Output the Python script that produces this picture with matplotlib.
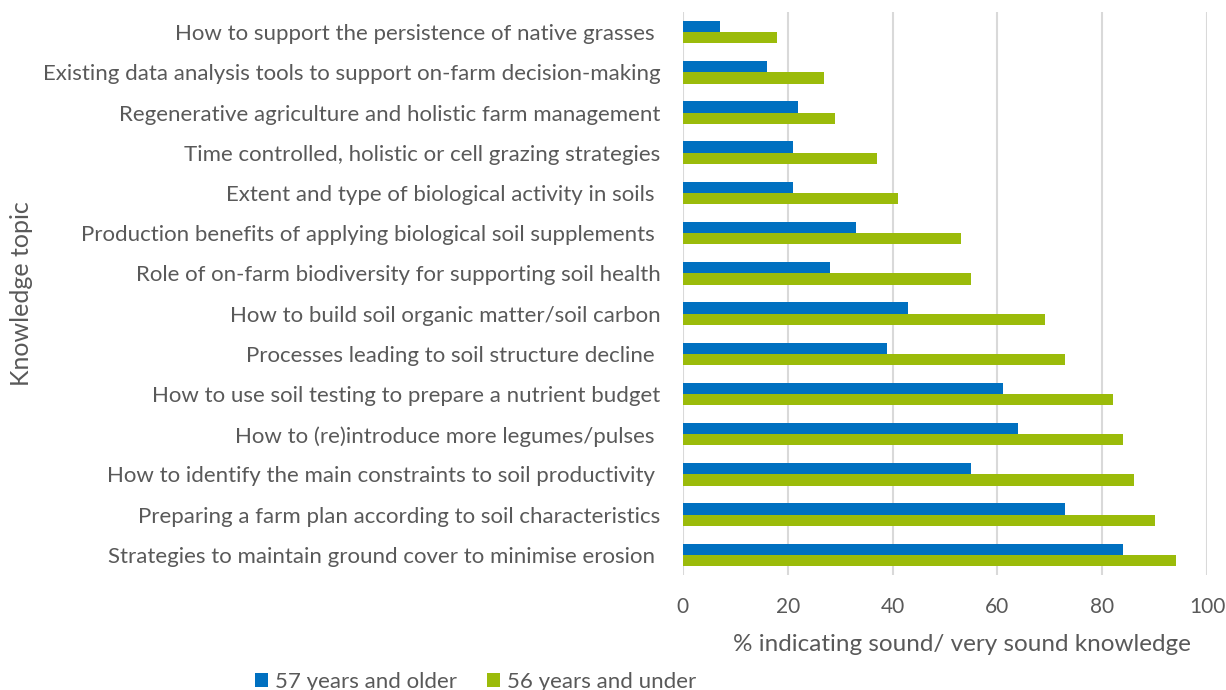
import numpy as np
import matplotlib.pyplot as plt

plt.rcParams['font.family'] = ['Lato', 'DejaVu Sans']

# Knowledge topics, top to bottom as in the chart
topics = [
    "How to support the persistence of native grasses ",
    "Existing data analysis tools to support on-farm decision-making",
    "Regenerative agriculture and holistic farm management",
    "Time controlled, holistic or cell grazing strategies",
    "Extent and type of biological activity in soils ",
    "Production benefits of applying biological soil supplements ",
    "Role of on-farm biodiversity for supporting soil health",
    "How to build soil organic matter/soil carbon",
    "Processes leading to soil structure decline ",
    "How to use soil testing to prepare a nutrient budget",
    "How to (re)introduce more legumes/pulses ",
    "How to identify the main constraints to soil productivity ",
    "Preparing a farm plan according to soil characteristics",
    "Strategies to maintain ground cover to minimise erosion ",
]
older = [7, 16, 22, 21, 21, 33, 28, 43, 39, 61, 64, 55, 73, 84]
younger = [18, 27, 29, 37, 41, 53, 55, 69, 73, 82, 84, 86, 90, 94]

blue = '#0070C0'
green = '#9BBB0A'
grey = '#595959'

fig = plt.figure(figsize=(12.26, 6.9), dpi=100)
ax = fig.add_axes([0.557, 0.1667, 0.4275, 0.8159])

y = np.arange(len(topics))
h = 0.28
ax.barh(y - h / 2, older, height=h, color=blue, label='57 years and older', zorder=3)
ax.barh(y + h / 2, younger, height=h, color=green, label='56 years and under', zorder=3)

ax.set_ylim(len(topics) - 0.5, -0.5)
ax.set_xlim(0, 100)
ax.set_xticks(range(0, 101, 20))
ax.set_yticks(y)
ax.set_yticklabels(topics)
ax.grid(axis='x', color='#D9D9D9', linewidth=1.5, zorder=0)
for s in ax.spines.values():
    s.set_visible(False)
ax.tick_params(axis='both', length=0, labelcolor=grey)
ax.tick_params(axis='y', pad=16, labelsize=16)
ax.tick_params(axis='x', pad=16, labelsize=15)

ax.set_xlabel('% indicating sound/ very sound knowledge', fontsize=17.5, color=grey)
ax.xaxis.set_label_coords(0.532, -0.105)
ax.set_ylabel('Knowledge topic', fontsize=18, color=grey)
ax.yaxis.set_label_coords(-1.2395, 0.5)

fig.legend(loc='center', bbox_to_anchor=(0.388, 0.012), ncol=2, frameon=False,
           fontsize=16, labelcolor=grey, handlelength=0.6, handleheight=0.6,
           handletextpad=0.3, columnspacing=1.35)

fig.savefig('out.png', dpi=100)
